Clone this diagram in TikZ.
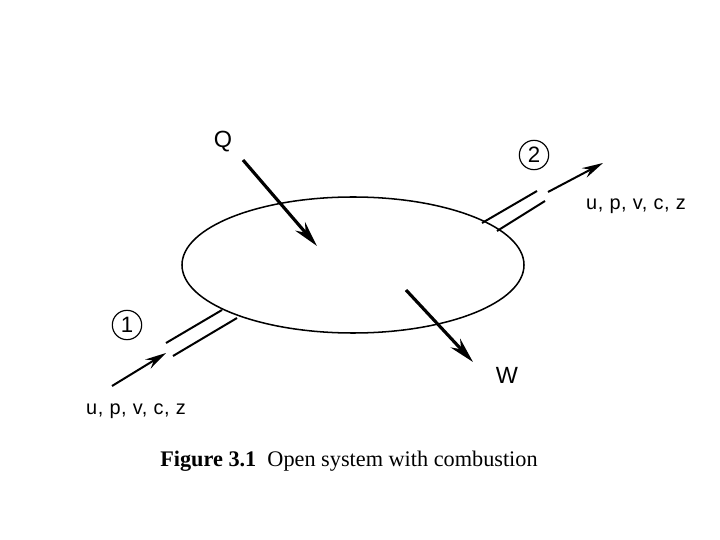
\documentclass[tikz,border=0pt]{standalone}
\usepackage{fontspec}
\setmainfont{Liberation Serif}
\setsansfont{Liberation Sans}
\newfontfamily\labelfont[LetterSpace=3]{Liberation Sans}
\usetikzlibrary{shapes.geometric, arrows.meta, positioning}

\begin{document}
\begin{tikzpicture}[
    x=0.03cm, y=-0.03cm,
    system/.style={
        ellipse,
        draw=black,
        line width=1.3pt,
        minimum width=10.26cm,
        minimum height=4.08cm,
        inner sep=0pt
    },
    label text/.style={
        font=\sffamily\fontsize{20}{22}\selectfont,
        inner sep=0pt
    },
    state text/.style={
        font=\labelfont\fontsize{17}{19}\selectfont,
        inner sep=0pt
    },
    station/.style={
        circle,
        draw=black,
        line width=1pt,
        minimum size=0.88cm,
        inner sep=0pt,
        font=\sffamily\fontsize{19}{20}\selectfont
    },
    pipe/.style={
        line width=1.7pt,
        black
    },
    flow/.style={
        -{Stealth[length=18pt, width=9pt]},
        line width=1.7pt,
        black
    },
    energy/.style={
        -{Stealth[length=22pt, width=11pt]},
        line width=2.7pt,
        black
    }
]

\useasboundingbox (0,0) rectangle (720,540);

\node[system] (sys) at (353,265) {};

% heat in, work out
\node[label text] (q) at (223,142) {Q};
\node[label text] (w) at (507,375) {W};
\coordinate (qtail) at (243,160);
\coordinate (qhead) at (317,246);
\coordinate (wtail) at (406,290);
\coordinate (whead) at (473,362);
\draw[energy] (qtail) -- (qhead);
\draw[energy] (wtail) -- (whead);

% inlet 1
\node[station] (st1) at (127,325) {1};
\node[state text] (in) at (136,411) {u, p, v, c, z};
\coordinate (in a) at (166,343);
\coordinate (in b) at (222,310);
\coordinate (in c) at (173,356);
\coordinate (in d) at (237,318);
\coordinate (in tail) at (112,386);
\coordinate (in head) at (166,353);
\draw[pipe] (in a) -- (in b);
\draw[pipe] (in c) -- (in d);
\draw[flow] (in tail) -- (in head);

% outlet 2
\node[station] (st2) at (534,155) {2};
\node[state text] (out) at (636,206) {u, p, v, c, z};
\coordinate (out a) at (482,223);
\coordinate (out b) at (537,191);
\coordinate (out c) at (497,231);
\coordinate (out d) at (545,201);
\coordinate (out tail) at (548,192);
\coordinate (out head) at (603,163);
\draw[pipe] (out a) -- (out b);
\draw[pipe] (out c) -- (out d);
\draw[flow] (out tail) -- (out head);

\node[font=\fontsize{19}{22}\selectfont, inner sep=0pt] (caption) at (349,461)
    {\textbf{Figure 3.1}\ \ Open system with combustion};

\end{tikzpicture}
\end{document}
